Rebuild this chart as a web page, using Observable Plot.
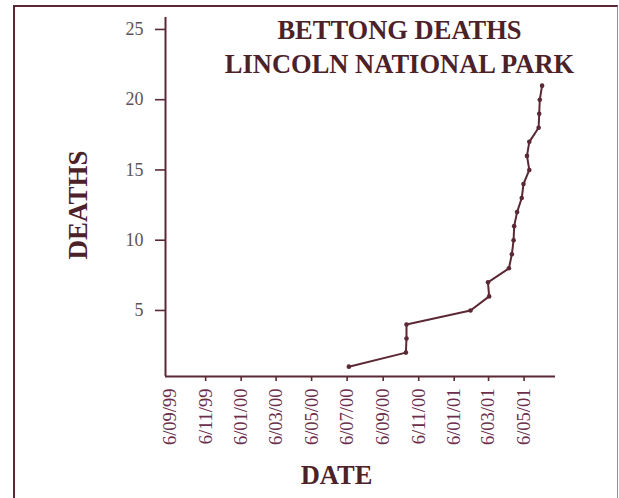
<!DOCTYPE html>
<html>
<head>
<meta charset="utf-8">
<script src="https://cdn.jsdelivr.net/npm/d3@7"></script>
<script src="https://cdn.jsdelivr.net/npm/@observablehq/plot@0.6"></script>
<style>
  html, body { margin: 0; padding: 0; background: #ffffff; overflow: hidden; }
  #wrap { position: relative; width: 619px; height: 498px; }
  #border { position: absolute; left: 13px; top: 5px; width: 605px; height: 600px; box-sizing: border-box;
            border-left: 2px solid #5b2835; border-top: 2px solid #5b2835; border-right: 1px solid #9a8a8f; }
  #chart { position: absolute; left: 0; top: 0; }
</style>
</head>
<body>
<div id="wrap"><div id="border"></div><div id="chart"></div></div>
<script>
// Data (cumulative bettong deaths)
const deathDates = ["2000-07-09","2000-10-15","2000-10-16","2000-10-16","2001-02-03","2001-03-07","2001-03-05",
  "2001-04-10","2001-04-15","2001-04-18","2001-04-19","2001-04-24","2001-05-02","2001-05-05","2001-05-15",
  "2001-05-11","2001-05-15","2001-05-31","2001-06-01","2001-06-02","2001-06-06"];
const deathCounts = [1,2,3,4,5,6,7,8,9,10,11,12,13,14,15,16,17,18,19,20,21];
const xTickLabels = ["6/09/99","6/11/99","6/01/00","6/03/00","6/05/00","6/07/00","6/09/00","6/11/00","6/01/01","6/03/01","6/05/01"];
const yTicks = [5,10,15,20,25];
const titleLines = ["BETTONG DEATHS", "LINCOLN NATIONAL PARK"];
const xTitle = "DATE";
const yTitle = "DEATHS";

const parseTick = d3.utcParse("%d/%m/%y");
const fmtTick = d3.utcFormat("%-d/%m/%y");
const xTicks = xTickLabels.map(parseTick);
const data = deathDates.map((d, i) => ({date: new Date(d + "T00:00:00Z"), deaths: deathCounts[i]}));

const xDomain = [new Date("1999-08-29T00:00:00Z"), new Date("2001-06-29T00:00:00Z")];
const yDomain = [0.3, 25.85];

const ink = "#5b2835";
const serif = "'Liberation Serif', 'Times New Roman', serif";

const plot = Plot.plot({
  width: 619,
  height: 498,
  marginLeft: 165,
  marginRight: 64,
  marginTop: 17,
  marginBottom: 122,
  style: {background: "transparent", fontFamily: serif},
  x: {type: "utc", domain: xDomain},
  y: {domain: yDomain},
  marks: [
    Plot.axisY(yTicks, {tickSize: 10, tickPadding: 12, fontSize: 18, color: "#5e5254", stroke: ink, strokeWidth: 1.6, label: null}),
    Plot.axisX(xTicks.slice(1), {tickSize: 5, text: null, stroke: ink, strokeWidth: 1.6, label: null}),
    Plot.axisX(xTicks, {tickSize: 0, tickPadding: 12, tickRotate: -90, tickFormat: fmtTick, fontSize: 18.5, fill: "#6b2f4c", label: null}),
    Plot.ruleY([yDomain[0]], {stroke: ink, strokeWidth: 2}),
    Plot.ruleX([xDomain[0]], {stroke: ink, strokeWidth: 2}),
    Plot.line(data, {x: "date", y: "deaths", stroke: ink, strokeWidth: 2}),
    Plot.dot(data, {x: "date", y: "deaths", r: 2.3, fill: ink}),
    Plot.text([titleLines.join("\n")], {frameAnchor: "top", lineAnchor: "top", textAnchor: "middle", dx: 39, dy: -2.5,
      fontSize: 26.5, fontWeight: "bold", lineHeight: 1.27, fill: "#4d2128"}),
    Plot.text([yTitle], {frameAnchor: "left", textAnchor: "middle", rotate: -90, dx: -87, dy: 8,
      fontSize: 27, fontWeight: "bold", fill: "#4d2128"}),
    Plot.text([xTitle], {frameAnchor: "bottom", lineAnchor: "bottom", textAnchor: "middle", dx: -24, dy: 107,
      fontSize: 26.5, fontWeight: "bold", fill: "#4d2128"})
  ]
});
document.getElementById("chart").appendChild(plot);
</script>
</body>
</html>
